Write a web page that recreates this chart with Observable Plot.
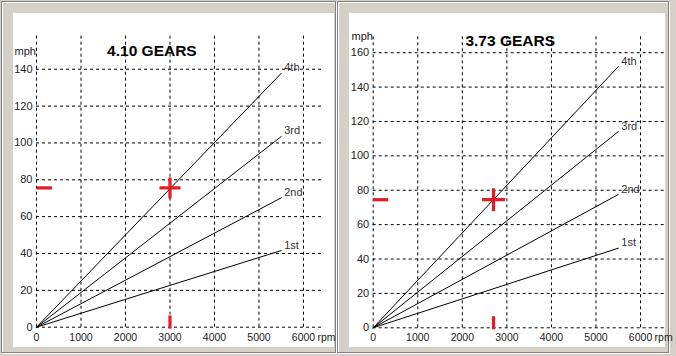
<!DOCTYPE html>
<html><head><meta charset="utf-8">
<script src="https://cdn.jsdelivr.net/npm/d3@7"></script>
<script src="https://cdn.jsdelivr.net/npm/@observablehq/plot@0.6"></script>
<style>
html,body{margin:0;padding:0;background:#d4d0c8;}
#root{position:relative;width:676px;height:356px;overflow:hidden;background:#d4d0c8;font-family:"Liberation Sans",Arial,sans-serif;}
.frame{position:absolute;border:1px solid #808080;box-shadow:inset 1px 1px 0 #fff, 1px 1px 0 #fff;}
.white{position:absolute;background:#fff;}
.plot{position:absolute;}
.plot svg{overflow:visible;display:block;}
</style></head><body>
<div id="root">
  <div class="frame" style="left:1px;top:1px;width:333px;height:350px"></div>
  <div class="frame" style="left:337px;top:1px;width:330px;height:350px"></div>
  <div class="white" style="left:13px;top:13px;width:321px;height:334px"></div>
  <div class="white" style="left:349px;top:13px;width:316px;height:334px"></div>
  <div class="plot" id="p1" style="left:13px;top:13px"></div>
  <div class="plot" id="p2" style="left:349px;top:13px"></div>
</div>
<script>
// ---- data ----
const rpmTicks = [0, 1000, 2000, 3000, 4000, 5000, 6000];
const gears = ["1st", "2nd", "3rd", "4th"];
const shiftRpm = 5500;
const mph410 = [41.6, 70.2, 103.5, 137.8];   // mph at 5500 rpm, 4.10 gears
const mph373 = [46.3, 77.5, 114.1, 151.9];   // mph at 5500 rpm, 3.73 gears
const mphTicks410 = [0, 20, 40, 60, 80, 100, 120, 140];
const mphTicks373 = [0, 20, 40, 60, 80, 100, 120, 140, 160];
const titles = ["4.10 GEARS", "3.73 GEARS"];
const cruiseRpm = [3000, 2700];
const cruiseMph = [75.6, 74.5];
const yUnit = "mph";
const xUnit = "rpm";

const RED = "#e31b23";

// custom symbols
const plusSym = {draw(ctx, size) {
  const r = Math.sqrt(size / Math.PI), t = 1.6;
  ctx.moveTo(-r, -t); ctx.lineTo(-t, -t); ctx.lineTo(-t, -r); ctx.lineTo(t, -r);
  ctx.lineTo(t, -t); ctx.lineTo(r, -t); ctx.lineTo(r, t); ctx.lineTo(t, t);
  ctx.lineTo(t, r); ctx.lineTo(-t, r); ctx.lineTo(-t, t); ctx.lineTo(-r, t); ctx.closePath();
}};
const dashSym = {draw(ctx, size) {
  const r = Math.sqrt(size / Math.PI), t = 1.6;
  ctx.moveTo(0, -t); ctx.lineTo(r, -t); ctx.lineTo(r, t); ctx.lineTo(0, t); ctx.closePath();
}};
const tickSym = {draw(ctx, size) {
  const r = Math.sqrt(size / Math.PI), t = 1.6;
  ctx.moveTo(-t, 1.5); ctx.lineTo(-t, -r); ctx.lineTo(t, -r); ctx.lineTo(t, 1.5); ctx.closePath();
}};

function panel(o) {
  const lines = [], ends = [];
  gears.forEach((g, i) => {
    lines.push({gear: g, rpm: 0, mph: 0});
    lines.push({gear: g, rpm: shiftRpm, mph: o.mph[i]});
    ends.push({gear: g, rpm: shiftRpm, mph: o.mph[i]});
  });
  const cruise = [{rpm: o.cruiseRpm, mph: o.cruiseMph}];
  const dash = {stroke: "#000", strokeWidth: 1, strokeDasharray: "3,3"};
  return Plot.plot({
    width: o.width, height: 334,
    marginLeft: o.ml, marginRight: o.mr, marginTop: o.mt, marginBottom: o.mb,
    x: {domain: [0, o.xMax]},
    y: {domain: [0, o.yMax]},
    style: {background: "transparent", fontFamily: "'Liberation Sans', Arial, sans-serif", fontSize: "11px", color: "#222", overflow: "visible"},
    marks: [
      Plot.ruleX(rpmTicks, {x: d => d, y1: 0, y2: o.yMax, ...dash}),
      Plot.ruleY(o.yTicks, {y: d => d, x1: 0, x2: o.xMax, ...dash}),
      Plot.line(lines, {x: "rpm", y: "mph", z: "gear", stroke: "#000", strokeWidth: 1}),
      Plot.text(ends, {x: "rpm", y: "mph", text: "gear", dx: 3, dy: -2, lineAnchor: "bottom", textAnchor: "start", fontSize: 11, fill: "#333"}),
      Plot.dot(cruise, {x: () => 0, y: "mph", symbol: dashSym, r: o.dashL, fill: RED, stroke: "none"}),
      Plot.dot(cruise, {x: "rpm", y: "mph", symbol: plusSym, r: o.plusR, fill: RED, stroke: "none"}),
      Plot.dot(cruise, {x: "rpm", y: () => 0, symbol: tickSym, r: o.tickR, fill: RED, stroke: "none"}),
      Plot.axisX(rpmTicks, {tickSize: 0, tickPadding: 6, fontSize: 10.5, label: null, tickFormat: d => String(d)}),
      Plot.axisY(o.yTicks, {tickSize: 0, tickPadding: 4, fontSize: 11, label: null, tickFormat: d => String(d)}),
      Plot.text([xUnit], {x: () => 6000, frameAnchor: "bottom", text: d => d, lineAnchor: "top", dy: 6, dx: 14, textAnchor: "start", fontSize: 10.5, fill: "#222"}),
      Plot.text([yUnit], {frameAnchor: "top-left", text: d => d, lineAnchor: "bottom", textAnchor: "start", dx: o.mphDx, dy: o.mphDy, fontSize: 11, fill: "#222"}),
      Plot.text([o.title], {frameAnchor: "top-left", text: d => d, lineAnchor: "bottom", textAnchor: "middle", dx: o.tDx, dy: o.tDy, fontSize: 15.5, fontWeight: "bold", fill: "#000"})
    ]
  });
}

document.getElementById("p1").appendChild(panel({
  width: 321, ml: 23, mr: 11, mt: 20, mb: 20.3,
  xMax: 6450, yMax: 159.4, yTicks: mphTicks410, mph: mph410,
  cruiseRpm: cruiseRpm[0], cruiseMph: cruiseMph[0],
  title: titles[0], tDx: 115.4, tDy: 22.7, mphDx: -22, mphDy: 21.5,
  plusR: 10.5, dashL: 15.5, tickR: 11.7
}));
document.getElementById("p2").appendChild(panel({
  width: 316, ml: 23.7, mr: 0.9, mt: 20.3, mb: 19.7,
  xMax: 6540, yMax: 171, yTicks: mphTicks373, mph: mph373,
  cruiseRpm: cruiseRpm[1], cruiseMph: cruiseMph[1],
  title: titles[1], tDx: 137, tDy: 12.4, mphDx: -21.7, mphDy: 6.2,
  plusR: 11.5, dashL: 15, tickR: 11.6
}));
</script>
</body></html>
